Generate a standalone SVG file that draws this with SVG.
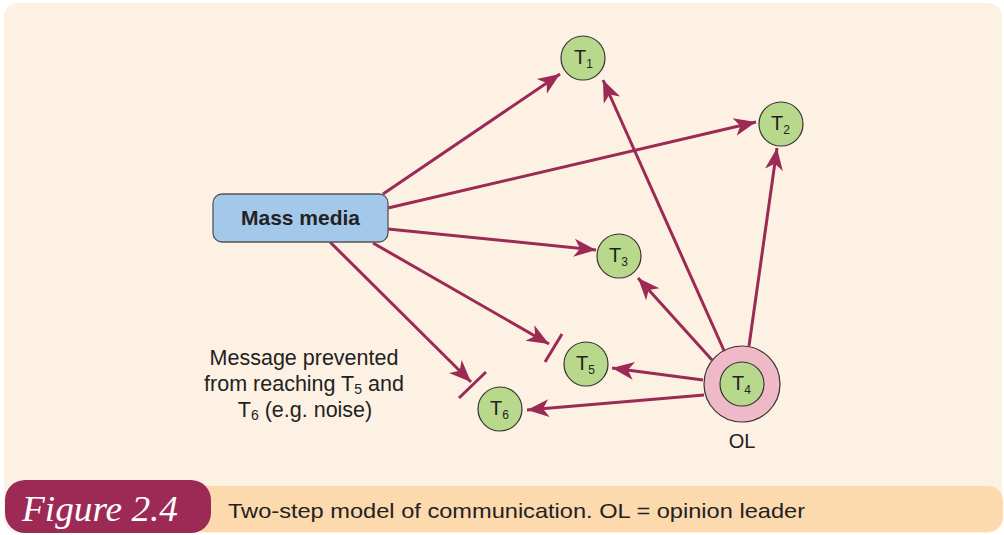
<svg xmlns="http://www.w3.org/2000/svg" width="1004" height="535" viewBox="0 0 1004 535">
<style>
.lbl{font-family:"Liberation Sans",Arial,sans-serif;fill:#222}
.t{fill:#b8d98b;stroke:#333;stroke-width:1.2}
.c{stroke:#9b2a55;stroke-width:3;fill:none}
.c.a{marker-end:url(#ah)}
.sub{font-size:12px}
</style>
<defs>
<marker id="ah" markerUnits="userSpaceOnUse" markerWidth="24" markerHeight="20" refX="22" refY="9" orient="auto" viewBox="0 0 24 18">
<path d="M0,0 L22,9 L0,18 L6,9 Z" fill="#9b2a55"/>
</marker>
</defs>
<rect x="0" y="0" width="1004" height="535" fill="#ffffff"/>
<rect x="4" y="3" width="998" height="530" rx="14" fill="#fdf1e3"/>
<rect x="190" y="486" width="813" height="46" rx="15" fill="#fdd9ae"/>
<g id="figlabel">
<rect x="5" y="480" width="206" height="53" rx="20" fill="#9c2a55"/>
<text x="22" y="521" font-family="'Liberation Serif',serif" font-style="italic" font-size="36" fill="#ffffff" textLength="156" lengthAdjust="spacingAndGlyphs">Figure 2.4</text>
</g>
<text class="lbl" x="228" y="518" font-size="21" fill="#333" textLength="577" lengthAdjust="spacingAndGlyphs">Two-step model of communication. OL = opinion leader</text>
<g id="connectors">
<line class="c a" x1="383" y1="194" x2="560" y2="74"/>
<line class="c a" x1="388" y1="208" x2="756" y2="122"/>
<line class="c a" x1="388" y1="229" x2="596" y2="250"/>
<line class="c a" x1="373" y1="243" x2="549" y2="344"/>
<line class="c" x1="562" y1="334" x2="545" y2="362"/>
<line class="c a" x1="330" y1="242" x2="471" y2="382"/>
<line class="c" x1="486" y1="372" x2="459" y2="398"/>
<line class="c a" x1="726" y1="355" x2="603" y2="80"/>
<line class="c a" x1="749" y1="346" x2="777" y2="148"/>
<line class="c a" x1="712" y1="360" x2="638" y2="278"/>
<line class="c a" x1="703" y1="380" x2="612" y2="368"/>
<line class="c a" x1="704" y1="395" x2="527" y2="410"/>
</g>
<g id="massmedia">
<rect x="213" y="194" width="175" height="48" rx="9" fill="#a4c8ea" stroke="#555" stroke-width="1.3"/>
<text class="lbl" x="300.5" y="225" font-size="21" font-weight="bold" text-anchor="middle">Mass media</text>
</g>
<g id="T1"><circle class="t" cx="583" cy="58" r="22"/><text class="lbl" x="574" y="64" font-size="20">T<tspan class="sub" dy="4">1</tspan></text></g>
<g id="T2"><circle class="t" cx="781" cy="124" r="22"/><text class="lbl" x="771" y="130" font-size="20">T<tspan class="sub" dy="4">2</tspan></text></g>
<g id="T3"><circle class="t" cx="619" cy="256" r="22"/><text class="lbl" x="609" y="262" font-size="20">T<tspan class="sub" dy="4">3</tspan></text></g>
<g id="T5"><circle class="t" cx="586" cy="364" r="22"/><text class="lbl" x="576" y="370" font-size="20">T<tspan class="sub" dy="4">5</tspan></text></g>
<g id="T6"><circle class="t" cx="500" cy="409" r="22"/><text class="lbl" x="490" y="415" font-size="20">T<tspan class="sub" dy="4">6</tspan></text></g>
<g id="T4">
<circle cx="742" cy="384" r="38" fill="#efb9c8" stroke="#333" stroke-width="1.2"/>
<circle class="t" cx="742" cy="384" r="22"/>
<text class="lbl" x="732" y="390" font-size="20">T<tspan class="sub" dy="4">4</tspan></text>
<text class="lbl" x="742" y="448" font-size="20" text-anchor="middle">OL</text>
</g>
<g id="note">
<text class="lbl" x="304" y="365" font-size="21.5" text-anchor="middle">Message prevented</text>
<text class="lbl" x="304" y="391" font-size="21.5" text-anchor="middle">from reaching T<tspan font-size="14" dy="3">5</tspan><tspan dy="-3"> and</tspan></text>
<text class="lbl" x="305" y="417" font-size="21.5" text-anchor="middle">T<tspan font-size="14" dy="3">6</tspan><tspan dy="-3"> (e.g. noise)</tspan></text>
</g>
</svg>
